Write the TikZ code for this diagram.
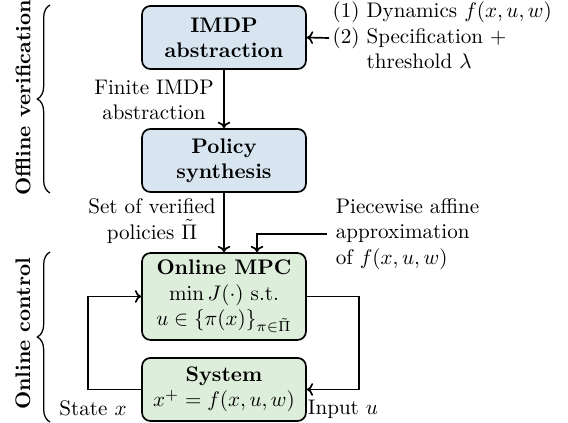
\documentclass[tikz,border=0pt]{standalone}
\usetikzlibrary{decorations.pathreplacing,arrows.meta}
\definecolor{boxblue}{HTML}{D8E5F1}
\definecolor{boxgreen}{HTML}{DDEFDA}
\begin{document}
\begin{tikzpicture}[x=0.474pt,y=-0.474pt,
  box/.style={draw,line width=0.8pt,rounded corners=4pt,minimum width=77.7pt,align=center,inner sep=2pt},
  bluebox/.style={box,fill=boxblue,minimum height=29.9pt},
  greenbox/.style={box,fill=boxgreen},
  conn/.style={line width=0.8pt,-{To[length=3pt,width=6pt]}},
  lbl/.style={align=center,inner sep=0pt},
  brc/.style={decorate,decoration={brace,amplitude=6pt},line width=0.6pt},
  side/.style={rotate=90,font=\bfseries,inner sep=0pt}]
\useasboundingbox (0,0) rectangle (568,423);
% boxes
\node[bluebox] (imdp) at (224,37.5) {\textbf{IMDP}\\\textbf{abstraction}};
\node[bluebox] (pol) at (224,160.5) {\textbf{Policy}\\\textbf{synthesis}};
\node[greenbox,minimum height=41.2pt] (mpc) at (224,296.5)
  {\textbf{Online MPC}\\$\min J(\cdot)$ s.t.\\$u\in\{\pi(x)\}_{\pi\in\tilde\Pi}$};
\node[greenbox,minimum height=29.9pt] (sys) at (224,389.5)
  {\textbf{System}\\$x^+=f(x,u,w)$};
% labels
\node[lbl] (l1) at (154,100) {Finite IMDP\\abstraction};
\node[lbl] (l2) at (152,221) {Set of verified\\policies $\tilde\Pi$};
\node[lbl,anchor=west,align=left,inner sep=4pt] (l3) at (327,234)
  {Piecewise affine\\approximation\\of $f(x,u,w)$};
\node[anchor=west,inner sep=1.5pt] (l4) at (329,38)
  {\begin{tabular}{@{}l@{~}l@{}}(1) & Dynamics $f(x,u,w)$\\(2) & Specification +\\ & threshold $\lambda$\end{tabular}};
\node[lbl] (st) at (93,408) {State $x$};
\node[lbl] (in) at (343,409) {Input $u$};
\coordinate (pa) at (257,0);
% connectors
\draw[conn] (l4.west) -- (imdp.east);
\draw[conn] (imdp.south) -- (pol.north);
\draw[conn] (pol.south) -- (mpc.north);
\draw[conn] (l3.west) -| (pa |- mpc.north);
\draw[conn] (mpc.east) -- ++(52,0) |- (sys.east);
\draw[conn] (sys.west) -- ++(-53,0) |- (mpc.west);
% braces and side labels
\draw[brc] (50,193) -- (50,5);
\draw[brc] (50,422) -- (50,252);
\node[side] (off) at (23,98) {Offline verification};
\node[side] (on) at (23,334) {Online control};
\end{tikzpicture}
\end{document}
